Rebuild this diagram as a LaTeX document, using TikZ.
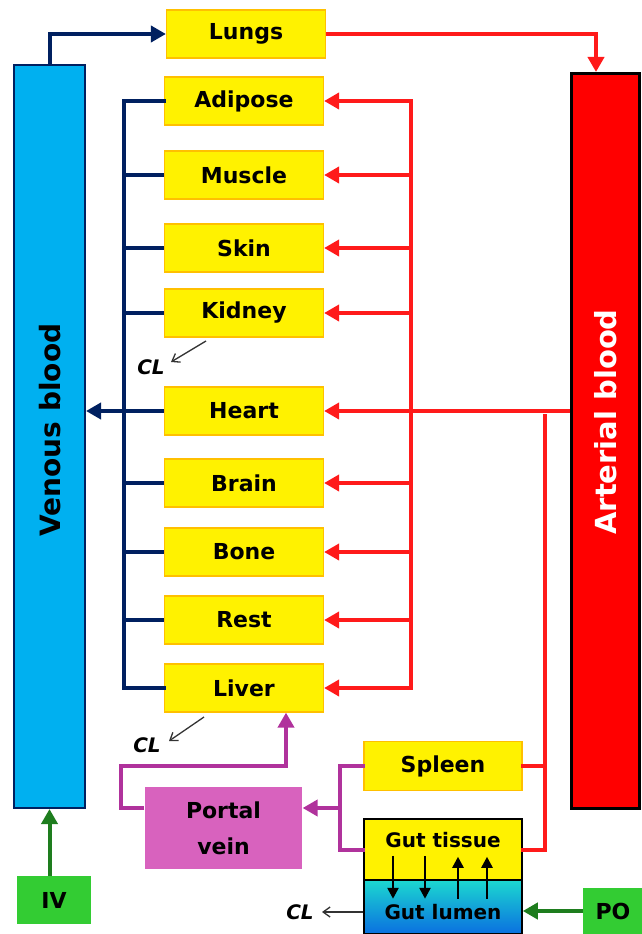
\documentclass[tikz,border=0pt]{standalone}
\usepackage{fontspec}
\setmainfont{DejaVu Sans}
\usetikzlibrary{arrows.meta,calc}
\definecolor{navyc}{HTML}{002060}
\definecolor{venc}{HTML}{00B0F0}
\definecolor{redc}{HTML}{FF1A1A}
\definecolor{orgborder}{HTML}{FFC000}
\definecolor{purpc}{HTML}{B0329C}
\definecolor{portalc}{HTML}{D862BE}
\definecolor{greenbox}{HTML}{33CC33}
\definecolor{greenarrc}{HTML}{1E7D1E}
\definecolor{lumtop}{HTML}{1CD8D0}
\definecolor{lumbot}{HTML}{0A6FE0}
\definecolor{clc}{HTML}{333333}
\begin{document}
\begin{tikzpicture}[x=1pt,y=-1pt,
  organ/.style={draw=orgborder, line width=1.2pt, fill=yellow, minimum width=159pt, minimum height=48pt, inner sep=0pt, font=\fontsize{22}{26}\selectfont\bfseries},
  txt/.style={inner sep=0pt, font=\fontsize{20}{24}\selectfont\bfseries},
  cltxt/.style={inner sep=0pt, font=\fontsize{20}{24}\selectfont\bfseries\itshape},
  tip/.style={-{Triangle[length=15pt,width=16pt]}},
  navyline/.style={draw=navyc, line width=4pt, line cap=rect},
  navyarr/.style={navyline, line cap=butt, tip},
  redline/.style={draw=redc, line width=4pt, line cap=rect},
  redarr/.style={redline, line cap=butt, tip},
  purpline/.style={draw=purpc, line width=4pt, line cap=rect},
  purparr/.style={purpline, line cap=butt, tip},
  greenarr/.style={draw=greenarrc, line width=4pt, tip},
  clarr/.style={draw=clc, line width=1.3pt, -{Straight Barb[length=7pt,width=10pt]}},
  gutarr/.style={draw=black, line width=2.5pt, -{Triangle[length=11pt,width=11pt]}}
]
\useasboundingbox (0,0) rectangle (642,934);

% blood compartments
\node[draw=navyc, line width=2pt, fill=venc, minimum width=71pt, minimum height=743pt, inner sep=0pt] (ven) at (49.5,436.5) {};
\node[rotate=90, inner sep=0pt, font=\fontsize{28}{32}\selectfont\bfseries] (ventxt) at (50,430) {Venous blood};
\node[draw=black, line width=3pt, fill=red, minimum width=68pt, minimum height=735pt, inner sep=0pt] (art) at (605.5,441) {};
\node[rotate=90, inner sep=0pt, text=white, font=\fontsize{29}{32}\selectfont\bfseries] (arttxt) at (606,422) {Arterial blood};

% organs
\node[organ] (lungs) at (246,34) {Lungs};
\node[organ] (adipose) at (244,101) {Adipose};
\node[organ] (muscle) at (244,175) {Muscle};
\node[organ] (skin) at (244,248) {Skin};
\node[organ] (kidney) at (244,313) {Kidney};
\node[organ] (heart) at (244,411) {Heart};
\node[organ] (brain) at (244,483) {Brain};
\node[organ] (bone) at (244,552) {Bone};
\node[organ] (rest) at (244,620) {Rest};
\node[organ] (liver) at (244,688) {Liver};
\node[organ, minimum width=158pt, minimum height=49pt] (spleen) at (443,766) {Spleen};
\node[organ, draw=none, fill=portalc, minimum width=157pt, minimum height=82pt, align=center, font=\fontsize{22}{36}\selectfont\bfseries] (pv) at (223.5,828) {Portal\\vein};

% gut
\node[draw=black, line width=1.5pt, fill=yellow, minimum width=158pt, minimum height=61pt, inner sep=0pt] (guttissue) at (443,849.5) {};
\node[draw=black, line width=1.5pt, top color=lumtop, bottom color=lumbot, minimum width=158pt, minimum height=54pt, inner sep=0pt] (gutlumen) at (443,907) {};
\node[txt] (gttxt) at (443,840) {Gut tissue};
\node[txt] (gltxt) at (443,912) {Gut lumen};

% dosing
\node[fill=greenbox, minimum width=74pt, minimum height=48pt, inner sep=0pt, font=\fontsize{22}{26}\selectfont\bfseries] (iv) at (54,900) {IV};
\node[fill=greenbox, minimum width=60pt, minimum height=46pt, inner sep=0pt, font=\fontsize{22}{26}\selectfont\bfseries] (po) at (613,911) {PO};

% CL labels
\node[cltxt] (cl1) at (151,367) {CL};
\node[cltxt] (cl2) at (147,745) {CL};
\node[cltxt] (cl3) at (300,912) {CL};

% helper coordinates
\coordinate (nv) at (124,0);
\coordinate (rd) at (411,0);
\coordinate (rs) at (545,0);
\coordinate (la) at (596,0);
\coordinate (pj) at (340,0);
\coordinate (pvy) at (0,808);
\coordinate (pl1) at (121,766);
\coordinate (pl2) at (286,0);
\coordinate (k1) at (206,341);
\coordinate (k2) at (171,362);
\coordinate (l1) at (204,717);
\coordinate (l2) at (169,741);
\coordinate (c3) at (322,912);

% venous -> lungs -> arterial
\draw[navyarr] (ven.north) |- (lungs.west);
\draw[redarr] (lungs.east) -| (la |- art.north);

% venous collector
\draw[navyline] (adipose.west) -- (adipose.west -| nv) -- (liver.west -| nv) -- (liver.west);
\foreach \o in {muscle,skin,kidney,brain,bone,rest}
  \draw[navyline, line cap=butt] (\o.west) -- (\o.west -| nv);
\draw[navyarr] (heart.west) -- (heart.west -| ven.east);

% arterial distributor
\draw[redline] (adipose.east -| rd) -- (liver.east -| rd);
\foreach \o in {adipose,muscle,skin,kidney,brain,bone,rest,liver}
  \draw[redarr] (\o.east -| rd) -- (\o.east);
\draw[redarr] (heart.east -| art.west) -- (heart.east);
\draw[redline] ([yshift=-5pt]heart.east -| rs) -- (guttissue.east -| rs) -- (guttissue.east);
\draw[redline] (spleen.east) -- (spleen.east -| rs);

% portal system
\draw[purpline] (spleen.west) -- (spleen.west -| pj) -- (guttissue.west -| pj) -- (guttissue.west);
\draw[purparr] (pvy -| pj) -- (pvy -| pv.east);
\draw[purparr] (pvy -| pv.west) -| (pl1) -| (pl2 |- liver.south);

% gut exchange arrows
\draw[gutarr] ($(guttissue.south)+(-50,-25)$) -- ++(0,43);
\draw[gutarr] ($(guttissue.south)+(-18,-25)$) -- ++(0,43);
\draw[gutarr] ($(guttissue.south)+(15,18)$) -- ++(0,-42);
\draw[gutarr] ($(guttissue.south)+(44,18)$) -- ++(0,-42);

% clearance
\draw[clarr] (k1) -- (k2);
\draw[clarr] (l1) -- (l2);
\draw[clarr] (gutlumen.west |- cl3) -- (c3);

% dosing arrows
\draw[greenarr] (iv.north -| ven.south) -- (ven.south);
\draw[greenarr] (po.west) -- (po.west -| gutlumen.east);
\end{tikzpicture}
\end{document}
